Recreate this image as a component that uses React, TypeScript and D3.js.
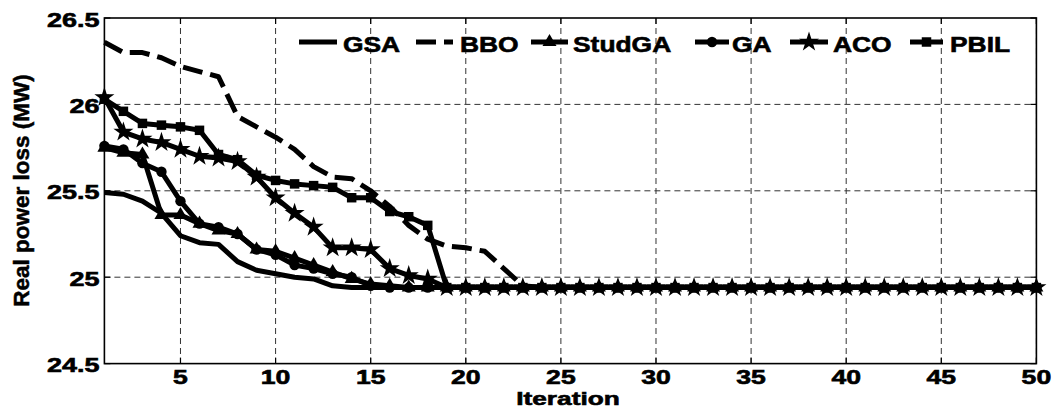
import React from 'react';
import * as d3 from 'd3';

const iterations = [1,2,3,4,5,6,7,8,9,10,11,12,13,14,15,16,17,18,19,20,21,22,23,24,25,26,27,28,29,30,31,32,33,34,35,36,37,38,39,40,41,42,43,44,45,46,47,48,49,50];
const xTicks = [5,10,15,20,25,30,35,40,45,50];
const yTicks = [24.5,25,25.5,26,26.5];
const yTickLabels = ['24.5','25','25.5','26','26.5'];

const gsa = [25.49,25.48,25.44,25.37,25.24,25.20,25.19,25.09,25.04,25.02,25.00,24.99,24.95,24.94,24.94,24.94,24.94,24.94,24.94,24.94,24.94,24.94,24.94,24.94,24.94,24.94,24.94,24.94,24.94,24.94,24.94,24.94,24.94,24.94,24.94,24.94,24.94,24.94,24.94,24.94,24.94,24.94,24.94,24.94,24.94,24.94,24.94,24.94,24.94,24.94];
const bbo = [26.36,26.30,26.30,26.27,26.22,26.19,26.16,25.93,25.87,25.81,25.74,25.64,25.58,25.57,25.50,25.41,25.30,25.22,25.18,25.17,25.15,25.05,24.95,24.94,24.94,24.94,24.94,24.94,24.94,24.94,24.94,24.94,24.94,24.94,24.94,24.94,24.94,24.94,24.94,24.94,24.94,24.94,24.94,24.94,24.94,24.94,24.94,24.94,24.94,24.94];
const studga = [25.75,25.72,25.71,25.36,25.36,25.31,25.27,25.25,25.16,25.15,25.11,25.07,25.03,24.99,24.96,24.95,24.94,24.94,24.94,24.94,24.94,24.94,24.94,24.94,24.94,24.94,24.94,24.94,24.94,24.94,24.94,24.94,24.94,24.94,24.94,24.94,24.94,24.94,24.94,24.94,24.94,24.94,24.94,24.94,24.94,24.94,24.94,24.94,24.94,24.94];
const ga = [25.76,25.74,25.66,25.61,25.44,25.31,25.29,25.25,25.16,25.13,25.07,25.05,25.02,25.00,24.95,24.94,24.94,24.94,24.94,24.94,24.94,24.94,24.94,24.94,24.94,24.94,24.94,24.94,24.94,24.94,24.94,24.94,24.94,24.94,24.94,24.94,24.94,24.94,24.94,24.94,24.94,24.94,24.94,24.94,24.94,24.94,24.94,24.94,24.94,24.94];
const aco = [26.04,25.84,25.80,25.78,25.74,25.70,25.69,25.67,25.58,25.46,25.37,25.29,25.17,25.17,25.16,25.05,25.01,24.99,24.94,24.94,24.94,24.94,24.94,24.94,24.94,24.94,24.94,24.94,24.94,24.94,24.94,24.94,24.94,24.94,24.94,24.94,24.94,24.94,24.94,24.94,24.94,24.94,24.94,24.94,24.94,24.94,24.94,24.94,24.94,24.94];
const pbil = [26.03,25.96,25.89,25.88,25.87,25.85,25.71,25.68,25.59,25.56,25.54,25.53,25.52,25.46,25.46,25.38,25.35,25.30,24.94,24.94,24.94,24.94,24.94,24.94,24.94,24.94,24.94,24.94,24.94,24.94,24.94,24.94,24.94,24.94,24.94,24.94,24.94,24.94,24.94,24.94,24.94,24.94,24.94,24.94,24.94,24.94,24.94,24.94,24.94,24.94];

const seriesNames = ['GSA','BBO','StudGA','GA','ACO','PBIL'];
const seriesValues = [gsa, bbo, studga, ga, aco, pbil];

const W = 1053, H = 409;
const left = 104.4, right = 1036.4, top = 18, bottom = 363.6;
const FONT = '"Liberation Sans", Arial, Helvetica, sans-serif';

type MarkerKind = 'none' | 'triangle' | 'circle' | 'star' | 'square';
const styles: { dash?: string; marker: MarkerKind; size: number }[] = [
  { marker: 'none', size: 0 },
  { dash: '20,8', marker: 'none', size: 0 },
  { marker: 'triangle', size: 85 },
  { marker: 'circle', size: 85 },
  { marker: 'star', size: 125 },
  { marker: 'square', size: 90 },
];

const symbolFor = (k: MarkerKind) =>
  k === 'triangle' ? d3.symbolTriangle : k === 'circle' ? d3.symbolCircle : k === 'star' ? d3.symbolStar : d3.symbolSquare;

const legendX = [
  { x1: 299, x2: 337, tx: 343 },
  { x1: 416, x2: 453, tx: 460 },
  { x1: 531, x2: 568, tx: 573 },
  { x1: 695, x2: 729, tx: 732 },
  { x1: 790, x2: 828, tx: 833 },
  { x1: 910, x2: 943, tx: 950 },
];

function SText({ x, y, sx, anchor, size, children }: any) {
  return (
    <text
      transform={`translate(${x},${y}) scale(${sx},1)`}
      textAnchor={anchor}
      fontFamily={FONT}
      fontWeight="bold"
      fontSize={size}
      fill="#000"
      stroke="#000"
      strokeWidth={0.6}
    >
      {children}
    </text>
  );
}

export default function App() {
  const x = d3.scaleLinear().domain([1, 50]).range([left, right]);
  const y = d3.scaleLinear().domain([24.5, 26.5]).range([bottom, top]);
  const line = d3.line<number>().x((_, i) => x(iterations[i])).y((d) => y(d));

  return (
    <svg width={W} height={H} style={{ position: 'absolute', left: 0, top: 0, background: '#fff' }}>
      <rect x={0} y={0} width={W} height={H} fill="#fff" />
      {/* grid */}
      {xTicks.map((t) => (
        <line key={'gx' + t} x1={x(t)} x2={x(t)} y1={top} y2={bottom} stroke="#333" strokeWidth={1} strokeDasharray="6,4" />
      ))}
      {yTicks.slice(1, -1).map((t) => (
        <line key={'gy' + t} x1={left} x2={right} y1={y(t)} y2={y(t)} stroke="#333" strokeWidth={1} strokeDasharray="6,4" />
      ))}
      {/* ticks */}
      {xTicks.map((t) => (
        <g key={'tx' + t}>
          <line x1={x(t)} x2={x(t)} y1={bottom} y2={bottom - 6} stroke="#000" strokeWidth={1.2} />
          <line x1={x(t)} x2={x(t)} y1={top} y2={top + 6} stroke="#000" strokeWidth={1.2} />
        </g>
      ))}
      {yTicks.map((t) => (
        <g key={'ty' + t}>
          <line x1={left} x2={left + 6} y1={y(t)} y2={y(t)} stroke="#000" strokeWidth={1.2} />
          <line x1={right} x2={right - 6} y1={y(t)} y2={y(t)} stroke="#000" strokeWidth={1.2} />
        </g>
      ))}
      {/* frame */}
      <rect x={left} y={top} width={right - left} height={bottom - top} fill="none" stroke="#000" strokeWidth={1.6} />

      {/* series */}
      {seriesValues.map((vals, si) => {
        const st = styles[si];
        return (
          <g key={'s' + si}>
            <path
              d={line(vals) || ''}
              fill="none"
              stroke="#000"
              strokeWidth={5}
              strokeLinejoin="round"
              strokeDasharray={st.dash}
            />
            {st.marker !== 'none' &&
              vals.map((v, i) => (
                <path
                  key={i}
                  transform={`translate(${x(iterations[i])},${y(v)})`}
                  d={d3.symbol().type(symbolFor(st.marker)).size(st.size)() || ''}
                  fill="#000"
                />
              ))}
          </g>
        );
      })}

      {/* tick labels */}
      {xTicks.map((t) => (
        <SText key={'lx' + t} x={x(t)} y={384} sx={1.33} anchor="middle" size={20}>
          {String(t)}
        </SText>
      ))}
      {yTicks.map((t, i) => (
        <SText key={'ly' + t} x={99.5} y={y(t) + 8.5} sx={1.35} anchor="end" size={20}>
          {yTickLabels[i]}
        </SText>
      ))}

      {/* axis labels */}
      <SText x={568} y={405} sx={1.42} anchor="middle" size={18.5}>
        Iteration
      </SText>
      <text
        transform={`translate(28.5,190.5) rotate(-90)`}
        textAnchor="middle"
        fontFamily={FONT}
        fontWeight="bold"
        fontSize={22.5}
        fill="#000"
        stroke="#000"
        strokeWidth={0.5}
      >
        Real power loss (MW)
      </text>

      {/* legend */}
      {seriesNames.map((name, si) => {
        const st = styles[si];
        const lx = legendX[si];
        const cx = (lx.x1 + lx.x2) / 2;
        return (
          <g key={'lg' + si}>
            <line x1={lx.x1} x2={lx.x2} y1={42} y2={42} stroke="#000" strokeWidth={5} strokeDasharray={st.dash} />
            {st.marker !== 'none' && (
              <path
                transform={`translate(${cx},42)`}
                d={d3.symbol().type(symbolFor(st.marker)).size(st.size)() || ''}
                fill="#000"
              />
            )}
            <SText x={lx.tx} y={51.5} sx={1.2} anchor="start" size={22}>
              {name}
            </SText>
          </g>
        );
      })}
    </svg>
  );
}
